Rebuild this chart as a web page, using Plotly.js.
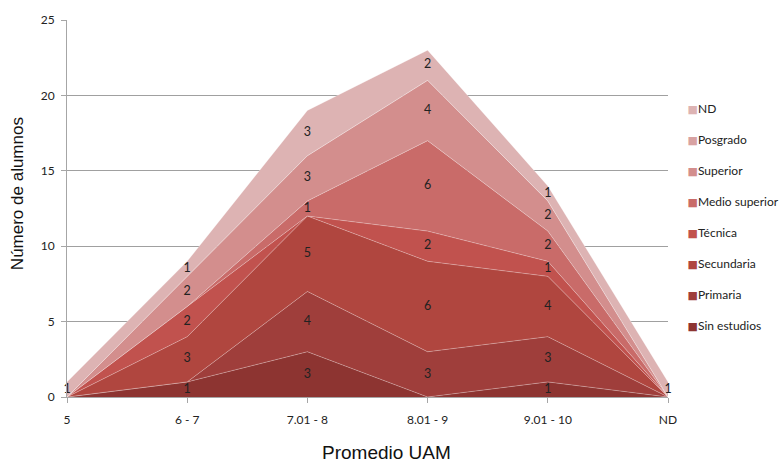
<!DOCTYPE html>
<html><head><meta charset="utf-8">
<script src="https://cdn.plot.ly/plotly-3.0.1.min.js"></script>
<style>body{margin:0;background:#fff}#chart{width:780px;height:464px}</style>
</head><body><div id="chart"></div>
<script>
const categories = ["5", "6 - 7", "7.01 - 8", "8.01 - 9", "9.01 - 10", "ND"];
// stacked bottom to top
const sinEstudios   = [0, 1, 3, 0, 1, 0];
const primaria      = [0, 0, 4, 3, 3, 0];
const secundaria    = [0, 3, 5, 6, 4, 0];
const tecnica       = [0, 2, 0, 2, 1, 0];
const medioSuperior = [0, 0, 1, 6, 2, 0];
const superior      = [0, 2, 3, 4, 2, 0];
const posgrado      = [0, 0, 0, 0, 0, 0];
const nd            = [1, 1, 3, 2, 1, 1];

const seriesNames = ["Sin estudios", "Primaria", "Secundaria", "Técnica", "Medio superior", "Superior", "Posgrado", "ND"];
const seriesValues = [sinEstudios, primaria, secundaria, tecnica, medioSuperior, superior, posgrado, nd];
const colors = ["#8d3431", "#9f3e3b", "#b0463f", "#c1524e", "#c96b69", "#d38e8d", "#d8a2a2", "#ddb3b3"];

const narrow = "Lato, 'Open Sans', sans-serif";
const xs = categories.map((c, i) => i);
const traces = [];
const labelFont = {family: narrow, size: 12.5, color: "#222"};
const cum = xs.map(() => 0);
seriesValues.forEach((vals, k) => {
  traces.push({
    x: xs, y: vals, type: "scatter", mode: "lines", stackgroup: "one",
    fillcolor: colors[k], line: {color: "rgba(255,255,255,0.35)", width: 0.8},
    name: seriesNames[k], showlegend: false, hoverinfo: "skip"
  });
  const lx = [], ly = [], lt = [];
  vals.forEach((v, i) => {
    if (v > 0) { lx.push(xs[i]); ly.push(cum[i] + v / 2); lt.push(String(v)); }
    cum[i] += v;
  });
  traces.push({x: lx, y: ly, text: lt, mode: "text", type: "scatter", textfont: labelFont,
    textposition: "middle center", showlegend: false, hoverinfo: "skip", cliponaxis: false});
});
// legend entries (top = ND); colored square drawn as part of the legend text
for (let k = seriesNames.length - 1; k >= 0; k--) {
  traces.push({x: [null], y: [null], type: "scatter", mode: "markers",
    name: "<span style='color:" + colors[k] + ";font-size:11px;font-family:DejaVu Sans'>■</span>" + seriesNames[k],
    marker: {symbol: "square", size: 1, color: "rgba(0,0,0,0)"}, legendgroup: "g" + k, showlegend: true});
}

const tickFont = {family: narrow, size: 12, color: "#222"};
const layout = {
  width: 780, height: 464,
  margin: {l: 67, r: 112, t: 20, b: 67, autoexpand: false},
  paper_bgcolor: "#fff", plot_bgcolor: "#fff",
  showlegend: true,
  legend: {x: 0.966, xanchor: "left", y: 0.805, yanchor: "top", traceorder: "grouped",
    tracegroupgap: 12, itemwidth: 30, bgcolor: "rgba(0,0,0,0)",
    font: {family: narrow, size: 12, color: "#222"}},
  xaxis: {
    range: [0, 5], tickvals: xs, ticktext: categories, tickfont: tickFont,
    showgrid: false, zeroline: false, showline: true, linecolor: "#a6a6a6", linewidth: 1,
    ticks: "outside", ticklen: 5, tickcolor: "#a6a6a6", ticklabelstandoff: 7, fixedrange: true
  },
  yaxis: {
    range: [0, 25], dtick: 5, tickfont: tickFont,
    showgrid: true, gridcolor: "#a0a0a0", gridwidth: 1, zeroline: false,
    showline: true, linecolor: "#a6a6a6", linewidth: 1,
    ticks: "outside", ticklen: 5, tickcolor: "#a6a6a6", ticklabelstandoff: 4, fixedrange: true
  },
  annotations: [
    {text: "Promedio UAM", xref: "paper", yref: "paper", x: 0.532, y: -0.148, xanchor: "center", yanchor: "middle",
     showarrow: false, font: {family: "Liberation Sans, Arial, sans-serif", size: 19, color: "#111"}},
    {text: "Número de alumnos", xref: "paper", yref: "paper", x: -0.082, y: 0.54, xanchor: "center", yanchor: "middle",
     textangle: -90, showarrow: false, font: {family: "Liberation Sans, Arial, sans-serif", size: 17, color: "#111"}}
  ]
};
Plotly.newPlot("chart", traces, layout, {displayModeBar: false, staticPlot: true});
</script></body></html>
